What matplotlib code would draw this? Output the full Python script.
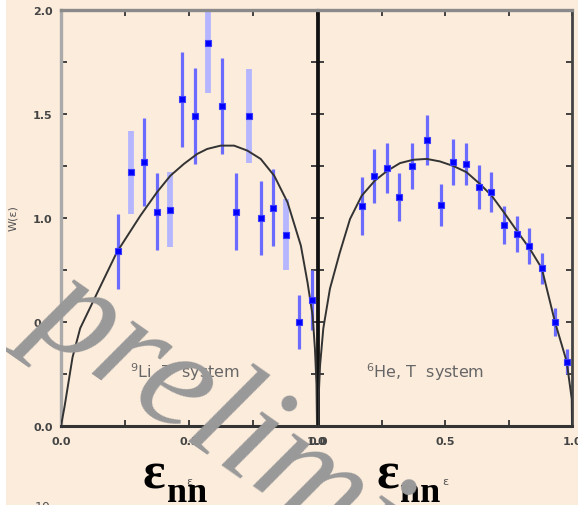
import numpy as np
import matplotlib
matplotlib.use("Agg")
import matplotlib.pyplot as plt
from matplotlib import font_manager
from matplotlib.font_manager import FontProperties
from matplotlib.ticker import MultipleLocator
from matplotlib.patches import Rectangle

# 9Li + n + n, Jacobi T system
eps_li = [0.224, 0.275, 0.325, 0.376, 0.424, 0.474, 0.525, 0.573,
          0.630, 0.682, 0.733, 0.780, 0.830, 0.880, 0.930, 0.980]
w_li = [0.84, 1.22, 1.27, 1.03, 1.04, 1.57, 1.49, 1.84,
        1.54, 1.03, 1.49, 1.00, 1.05, 0.92, 0.50, 0.605]
err_li = [0.18, 0.20, 0.21, 0.185, 0.18, 0.23, 0.23, 0.24,
          0.23, 0.185, 0.225, 0.18, 0.185, 0.17, 0.13, 0.145]
syst_li = [False, True, False, False, True, False, False, True,
           False, False, True, False, False, True, False, False]

curve_li_e = [0.0, 0.014, 0.045, 0.075, 0.118, 0.165, 0.218, 0.31, 0.375,
              0.427, 0.48, 0.532, 0.571, 0.624, 0.676, 0.728, 0.78, 0.833,
              0.885, 0.937, 0.963, 0.983, 0.992, 0.998, 1.0]
curve_li_w = [0.0, 0.094, 0.33, 0.47, 0.58, 0.70, 0.835, 1.011, 1.124,
              1.203, 1.26, 1.308, 1.332, 1.348, 1.348, 1.324, 1.284, 1.203,
              1.075, 0.867, 0.69, 0.53, 0.37, 0.2, 0.0]

# 6He + n + n, Jacobi T system
eps_he = [0.172, 0.220, 0.273, 0.320, 0.371, 0.430, 0.483, 0.530, 0.581,
          0.634, 0.680, 0.732, 0.785, 0.830, 0.880, 0.933, 0.979]
w_he = [1.057, 1.20, 1.24, 1.10, 1.25, 1.375, 1.063, 1.27, 1.26,
        1.15, 1.125, 0.967, 0.923, 0.865, 0.758, 0.50, 0.31]
err_he = [0.14, 0.13, 0.12, 0.115, 0.11, 0.12, 0.10, 0.11, 0.10,
          0.105, 0.095, 0.09, 0.085, 0.085, 0.075, 0.065, 0.06]
syst_he = [False] * len(eps_he)

curve_he_e = [0.0, 0.003, 0.008, 0.021, 0.047, 0.085, 0.126, 0.172, 0.224,
              0.273, 0.323, 0.375, 0.428, 0.48, 0.533, 0.585, 0.638, 0.684,
              0.732, 0.782, 0.835, 0.881, 0.933, 0.979, 0.999, 1.0]
curve_he_w = [0.0, 0.15, 0.29, 0.47, 0.66, 0.83, 0.995, 1.107, 1.18,
              1.227, 1.264, 1.28, 1.284, 1.272, 1.25, 1.22, 1.163, 1.107,
              1.027, 0.94, 0.85, 0.758, 0.50, 0.31, 0.13, 0.0]

bg = "#fcecdc"


def serif_italic(size):
    """Times-like italic for the watermark, DejaVu Serif if not present."""
    for f in font_manager.fontManager.ttflist:
        if f.name == "Liberation Serif" and f.style == "italic" \
                and f.weight in (400, "normal", "regular"):
            return FontProperties(fname=f.fname, size=size)
    return FontProperties(family="DejaVu Serif", style="italic", size=size)


def draw_panel(ax, eps, w, err, syst, ce, cw, label, label_x):
    eps = np.array(eps)
    w = np.array(w)
    err = np.array(err)
    syst = np.array(syst)
    ax.set_facecolor(bg)
    ax.errorbar(eps[~syst], w[~syst], yerr=err[~syst], fmt="none",
                ecolor="#6b6bff", elinewidth=2.3, capsize=0, zorder=2)
    if syst.any():
        ax.errorbar(eps[syst], w[syst], yerr=err[syst], fmt="none",
                    ecolor="#b6b6ff", elinewidth=4.2, capsize=0, zorder=2)
    ax.plot(ce, cw, color="#333333", lw=1.4, zorder=3)
    ax.plot(eps, w, "s", ms=4.6, color="#0000ff", mec="#3a3aff",
            mew=0.8, zorder=4)
    ax.text(label_x, 0.265, label, fontsize=11.5, color="#666666",
            ha="left", va="center")
    ax.text(0.5, -0.132, "ε", transform=ax.transAxes, fontsize=8,
            color="#555555", ha="center", va="center")

    ax.set_xlim(0, 1)
    ax.set_ylim(0, 2)
    ax.xaxis.set_major_locator(MultipleLocator(0.5))
    ax.xaxis.set_minor_locator(MultipleLocator(0.25))
    ax.yaxis.set_major_locator(MultipleLocator(0.5))
    ax.yaxis.set_minor_locator(MultipleLocator(0.25))
    ax.xaxis.set_major_formatter(lambda v, p: "%.1f" % v)
    ax.yaxis.set_major_formatter(lambda v, p: "%.1f" % v)
    ax.tick_params(which="both", direction="in", top=True, right=True,
                   length=4, width=1.3, color="#333333")
    ax.tick_params(axis="x", pad=7, labelsize=8, labelcolor="#444444")
    ax.tick_params(axis="y", pad=6, labelsize=8, labelcolor="#444444")
    for lab in ax.get_xticklabels() + ax.get_yticklabels():
        lab.set_fontweight("bold")


fig = plt.figure(figsize=(5.78, 5.06), dpi=100)
fig.patch.set_facecolor(bg)

ax1 = fig.add_axes([61 / 578, 79 / 506, 256 / 578, 416 / 506])
ax2 = fig.add_axes([318 / 578, 79 / 506, 254 / 578, 416 / 506])

draw_panel(ax1, eps_li, w_li, err_li, syst_li, curve_li_e, curve_li_w,
           "$^9$Li, T  system", 0.27)
draw_panel(ax2, eps_he, w_he, err_he, syst_he, curve_he_e, curve_he_w,
           "$^6$He, T  system", 0.19)
ax2.tick_params(labelleft=False)

ax1.set_ylabel("W(ε)", fontsize=8, color="#555555")
ax1.yaxis.set_label_coords(-0.168, 0.502)

for ax in (ax1, ax2):
    ax.spines["top"].set_color("#8a8a8a")
    ax.spines["top"].set_linewidth(2.4)
    ax.spines["bottom"].set_color("#333333")
    ax.spines["bottom"].set_linewidth(2.2)
ax1.spines["left"].set_color("#aaaaaa")
ax1.spines["left"].set_linewidth(2.4)
ax1.spines["right"].set_color("#111111")
ax1.spines["right"].set_linewidth(2.0)
ax2.spines["left"].set_color("#111111")
ax2.spines["left"].set_linewidth(2.0)
ax2.spines["right"].set_color("#444444")
ax2.spines["right"].set_linewidth(2.0)

# big epsilon_nn captions under each panel
for x0 in (143, 376):
    fig.text(x0 / 578, 1 - 489 / 506, "ε", fontsize=38, weight="bold",
             family="Liberation Serif", ha="left", va="baseline")
    fig.text((x0 + 24) / 578, 1 - 502 / 506, "nn", fontsize=26,
             weight="bold", family="Liberation Serif", ha="left",
             va="baseline")

fig.text(35 / 578, 1 - 501 / 506, "10", fontsize=9, color="#555555",
         ha="left", va="top")

# watermark
fig.text(28 / 578, 1 - 324 / 506, "preliminary",
         fontproperties=serif_italic(105), color="#999999",
         rotation=-35, rotation_mode="anchor", ha="left", va="baseline",
         zorder=10)

fig.add_artist(Rectangle((0, 0), 6 / 578, 1, transform=fig.transFigure,
                         facecolor="white", edgecolor="none", zorder=11))

fig.savefig("out.png", dpi=100, facecolor=bg)
